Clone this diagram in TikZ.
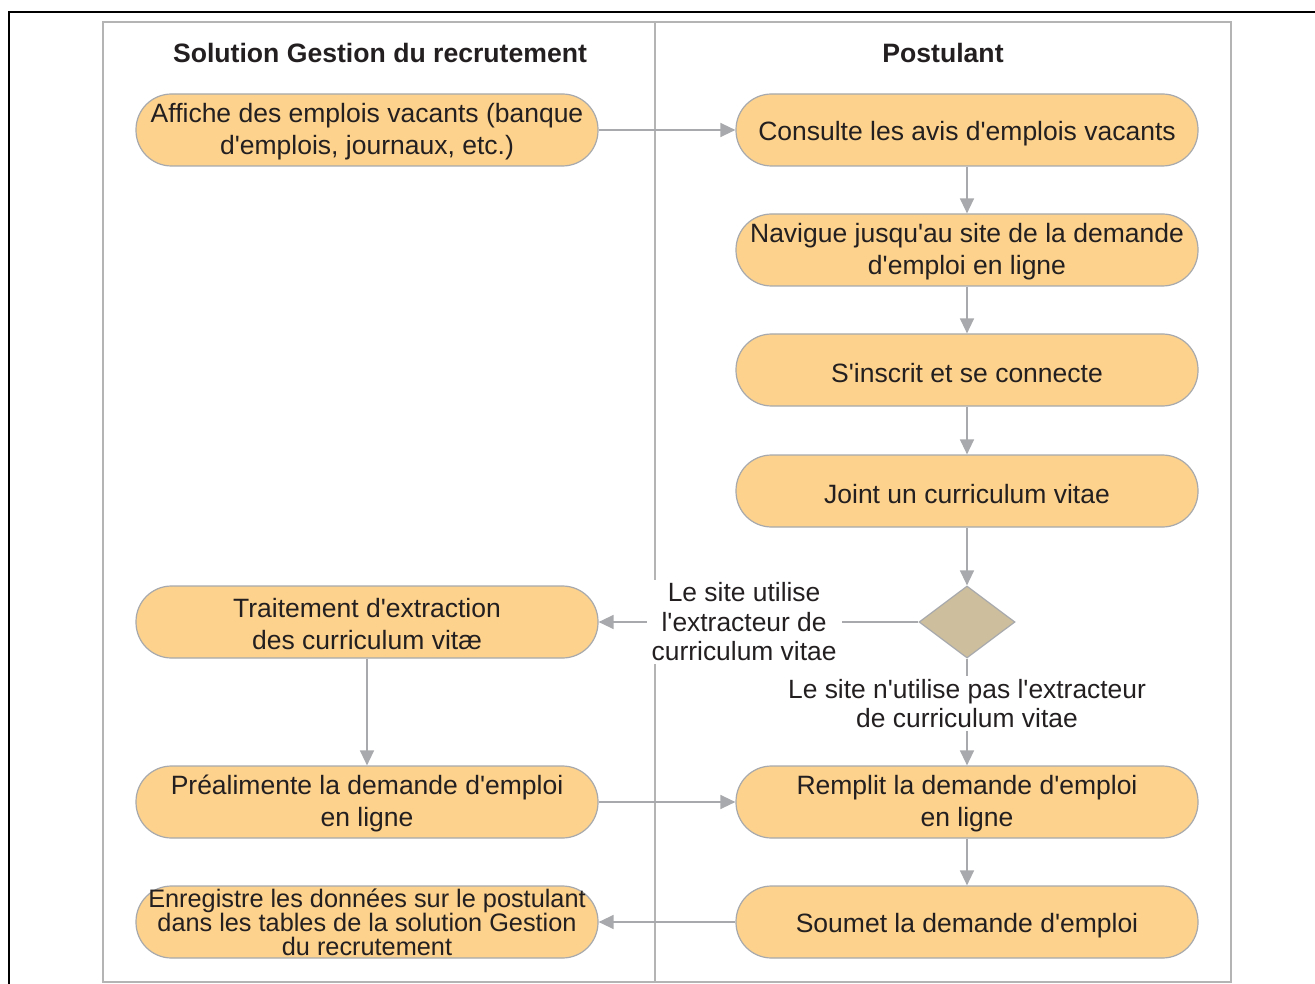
\documentclass[tikz,border=0pt]{standalone}
\usepackage{fontspec}
\setmainfont{Liberation Sans}[Ligatures=TeXOff]
\usetikzlibrary{arrows.meta,shapes.geometric}
\definecolor{actfill}{HTML}{FCD28D}
\definecolor{decfill}{HTML}{CDBF9D}
\definecolor{linegray}{HTML}{A7A9AC}
\definecolor{framegray}{HTML}{B4B4B4}
\definecolor{txt}{HTML}{231F20}
\newcommand\tallstrut{\rule{0pt}{26pt}}
\newcommand\midstrut{\rule{0pt}{23pt}}
\tikzset{
  act/.style={rectangle, rounded corners=35.5pt, draw=linegray, line width=1.2pt, fill=actfill,
    minimum width=462pt, minimum height=72pt, inner sep=0pt, align=center,
    text=txt, font=\fontsize{26.5}{32}\selectfont},
  dec/.style={diamond, draw=linegray, line width=1.2pt, fill=decfill,
    minimum width=96pt, minimum height=72pt, inner sep=0pt},
  conn/.style={draw=linegray, line width=1.4pt, -{Triangle[length=15pt,width=14pt]}},
  lab/.style={fill=white, align=center, text=txt, inner xsep=5pt, inner ysep=3pt,
    font=\fontsize{26.4}{29.5}\selectfont},
  head/.style={text=txt, font=\fontsize{26.6}{30}\selectfont\bfseries},
  small/.style={align=center, text=txt, inner sep=0pt, font=\fontsize{25.3}{24}\selectfont}
}
\begin{document}
\begin{tikzpicture}[x=1pt,y=-1pt]
\useasboundingbox (0,0) rectangle (1315,984);
\clip (0,0) rectangle (1315,984);
% frames
\draw[black, line width=2.6pt] (9,1010) -- (9,12) -- (1340,12);
\draw[framegray, line width=1.3pt] (103,22) rectangle (1231,982);
\draw[framegray, line width=1.3pt] (655,22) -- (655,982);
% headers
\node[head] (h1) at (380,53) {Solution Gestion du recrutement};
\node[head] (h2) at (943,53) {Postulant};
% left lane
\node[act] (affiche) at (367,130) {\midstrut Affiche des emplois vacants (banque\\d'emplois, journaux, etc.)};
\node[act] (trait) at (367,622) {\midstrut Traitement d'extraction\\des curriculum vitæ};
\node[act] (prealim) at (367,802) {\midstrut Préalimente la demande d'emploi\\en ligne};
\node[act, label={[small]center:{Enregistre les données sur le postulant\\dans les tables de la solution Gestion\\du recrutement}}] (enreg) at (367,922) {};
% right lane
\node[act] (consulte) at (967,130) {\tallstrut Consulte les avis d'emplois vacants};
\node[act] (navigue) at (967,250) {\midstrut Navigue jusqu'au site de la demande\\d'emploi en ligne};
\node[act] (inscrit) at (967,370) {\tallstrut S'inscrit et se connecte};
\node[act] (joint) at (967,491) {\tallstrut Joint un curriculum vitae};
\node[dec] (decision) at (967,622) {};
\node[act] (remplit) at (967,802) {\midstrut Remplit la demande d'emploi\\en ligne};
\node[act] (soumet) at (967,922) {\tallstrut Soumet la demande d'emploi};
% connectors
\draw[conn] (affiche) -- (consulte);
\draw[conn] (consulte) -- (navigue);
\draw[conn] (navigue) -- (inscrit);
\draw[conn] (inscrit) -- (joint);
\draw[conn] (joint) -- (decision);
\draw[conn] (decision) -- node[lab, pos=0.545] (l1) {Le site utilise\\l'extracteur de\\curriculum vitae} (trait);
\draw[conn] (decision) -- node[lab, pos=0.42] (l2) {Le site n'utilise pas l'extracteur\\de curriculum vitae} (remplit);
\draw[conn] (trait) -- (prealim);
\draw[conn] (prealim) -- (remplit);
\draw[conn] (remplit) -- (soumet);
\draw[conn] (soumet) -- (enreg);
\end{tikzpicture}
\end{document}
